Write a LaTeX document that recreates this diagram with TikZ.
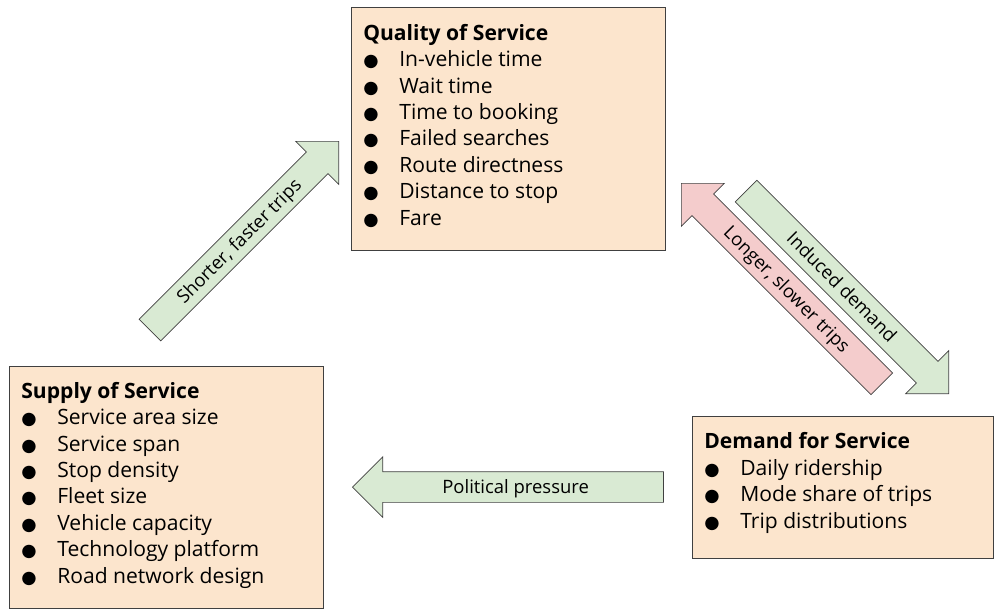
\documentclass[tikz,border=0pt]{standalone}
\usepackage{fontspec}
\setmainfont{Open Sans}
\newfontfamily\symfont{DejaVu Sans}
\usetikzlibrary{shapes.arrows}
\definecolor{boxfill}{HTML}{FCE5CD}
\definecolor{greenfill}{HTML}{D9EAD3}
\definecolor{redfill}{HTML}{F4CCCC}
\definecolor{edge}{HTML}{404040}
\newcommand{\itm}[1]{\makebox[0.72cm][l]{{\fontsize{10}{15}\symfont ●}}#1}
\begin{document}
\begin{tikzpicture}[
    x=0.02cm, y=-0.02cm,
    box/.style={rectangle, draw=edge, fill=boxfill, anchor=north west, inner sep=0pt},
    boxtext/.style={anchor=base west, align=left, inner sep=0pt, font=\fontsize{12}{15}\selectfont},
    bigarrow/.style={single arrow, draw=edge, single arrow head extend=0.3cm, single arrow tip angle=90, minimum width=1.2cm, inner xsep=2pt, inner ysep=0pt, text height=0.43cm, text depth=0.17cm, anchor=tip, font=\fontsize{10.5}{12}\selectfont},
    gooddir/.style={bigarrow, fill=greenfill},
    baddir/.style={bigarrow, fill=redfill}
]
\useasboundingbox (0,0) rectangle (994,609);

% Boxes
\node[box, minimum width=6.28cm, minimum height=4.86cm] (quality) at (351,7) {};
\node[box, minimum width=6.02cm, minimum height=2.84cm] (demand) at (692,416) {};
\node[box, minimum width=6.28cm, minimum height=4.84cm] (supply) at (9,366) {};

% Box contents (anchored at the baseline of the last line)
\node[boxtext] (qualitylist) at (363,225) {\textbf{Quality of Service}\\
    \itm{In-vehicle time}\\ \itm{Wait time}\\ \itm{Time to booking}\\
    \itm{Failed searches}\\ \itm{Route directness}\\ \itm{Distance to stop}\\
    \itm{Fare}};
\node[boxtext] (demandlist) at (704,528) {\textbf{Demand for Service}\\
    \itm{Daily ridership}\\ \itm{Mode share of trips}\\ \itm{Trip distributions}};
\node[boxtext] (supplylist) at (21,583) {\textbf{Supply of Service}\\
    \itm{Service area size}\\ \itm{Service span}\\ \itm{Stop density}\\
    \itm{Fleet size}\\ \itm{Vehicle capacity}\\ \itm{Technology platform}\\
    \itm{Road network design}};

% Arrows
\node[gooddir, rotate=45, minimum height=5.34cm] (shorter) at (339,141) {Shorter, faster trips};
\node[gooddir, rotate=-45, minimum height=5.73cm] (induced) at (949,394) {Induced demand};
\node[baddir, rotate=-45, shape border rotate=180, minimum height=5.67cm] (longer) at (681,183) {Longer, slower trips};
\node[gooddir, shape border rotate=180, minimum height=6.22cm] (political) at (352,487) {Political pressure};

\end{tikzpicture}
\end{document}
